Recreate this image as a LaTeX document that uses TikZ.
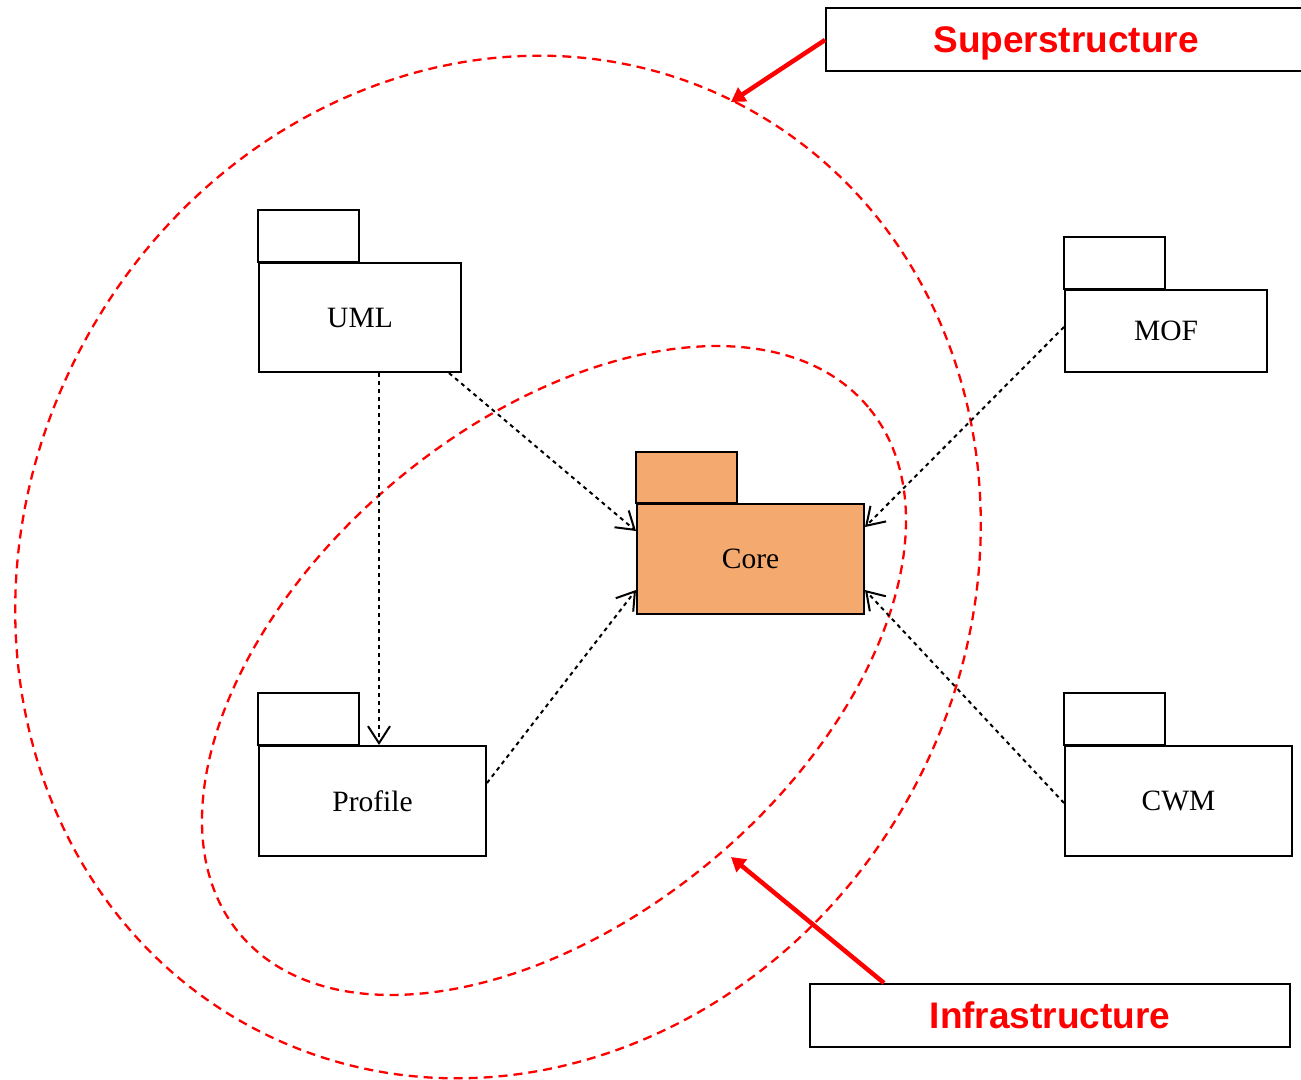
\documentclass[tikz,border=0pt]{standalone}
\usepackage{fontspec}
\setmainfont{Liberation Serif}
\setsansfont{Liberation Sans}
\usetikzlibrary{arrows.meta}
\definecolor{corefill}{HTML}{F4A96E}
\begin{document}
\begin{tikzpicture}[x=1pt,y=-1pt,
  pkg/.style={draw=black,line width=2pt,fill=white},
  pkglabel/.style={font=\fontsize{29.5}{34}\selectfont},
  dep/.style={line width=2pt,dash pattern=on 4pt off 4pt,
    -{Straight Barb[length=17pt,width=22pt,line width=2pt]}},
  scope/.style={draw=red,line width=2.3pt,dash pattern=on 9pt off 6pt},
  callout/.style={draw=black,line width=2pt,fill=white,
    font=\sffamily\bfseries\fontsize{37}{42}\selectfont,text=red},
  pointer/.style={draw=red,line width=4.5pt,-{Triangle[length=14pt,width=16pt]}}]
\useasboundingbox (0,0) rectangle (1301,1079);

% scope ellipses
\draw[scope,shift={(498,567)},rotate=62] (0,0) ellipse [x radius=522pt,y radius=471pt];
\draw[scope,shift={(554,670.5)},rotate=40] (0,0) ellipse [x radius=410pt,y radius=247pt];

% packages: tab + body
\draw[pkg] (258,210) rectangle (359,262);
\node[pkg,pkglabel,minimum width=202pt,minimum height=109pt,anchor=north west] (uml) at (258,262) {UML};
\draw[pkg] (1064,237) rectangle (1165,289);
\node[pkg,pkglabel,minimum width=202pt,minimum height=82pt,anchor=north west] (mof) at (1064,289) {MOF};
\draw[pkg,fill=corefill] (636,452) rectangle (737,503);
\node[pkg,pkglabel,fill=corefill,minimum width=227pt,minimum height=110pt,anchor=north west] (core) at (636,503) {Core};
\draw[pkg] (258,693) rectangle (359,745);
\node[pkg,pkglabel,minimum width=227pt,minimum height=110pt,anchor=north west] (profile) at (258,745) {Profile};
\draw[pkg] (1064,693) rectangle (1165,745);
\node[pkg,pkglabel,minimum width=227pt,minimum height=110pt,anchor=north west] (cwm) at (1064,745) {CWM};

% dependencies
\draw[dep] (uml.south west) ++(121,0) coordinate (umlb) -- (umlb |- profile.north);
\draw[dep] (uml.south east) ++(-13,0) -- ([yshift=-28pt]core.north west);
\draw[dep] ([yshift=-38pt]profile.north east) -- ([yshift=-87pt]core.north west);
\draw[dep] ([yshift=-38pt]mof.north west) -- ([yshift=-24pt]core.north east);
\draw[dep] ([yshift=-58pt]cwm.north west) -- ([yshift=-87pt]core.north east);

% callouts
\node[callout,minimum width=480pt,minimum height=63pt,anchor=north west,text height=33pt,text depth=8pt] (sup) at (825,7) {Superstructure};
\node[callout,minimum width=480pt,minimum height=63pt,anchor=north west] (inf) at (809,983) {Infrastructure};
\coordinate (supend) at (731,102);
\coordinate (infend) at (731,857);
\draw[pointer] ([yshift=-33pt]sup.north west) -- (supend);
\draw[pointer] ([xshift=75pt]inf.north west) -- (infend);
\end{tikzpicture}
\end{document}
